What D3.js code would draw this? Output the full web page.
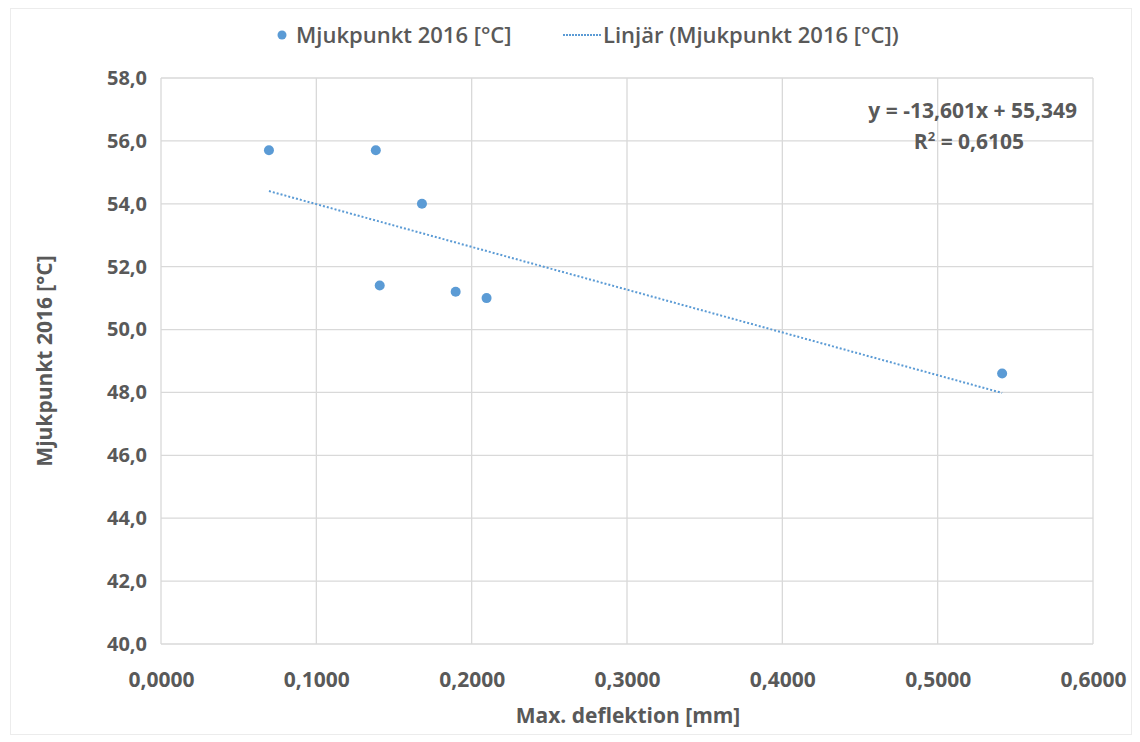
<!DOCTYPE html>
<html><head><meta charset="utf-8">
<script src="https://cdn.jsdelivr.net/npm/d3@7"></script>
<style>body{margin:0;background:#fff}svg{display:block}text{font-family:"Open Sans",sans-serif}</style>
</head><body>
<svg id="c" width="1140" height="742"></svg>
<script>
const xValues = [0.0695, 0.1383, 0.1680, 0.1408, 0.1897, 0.2096, 0.5415];
const yValues = [55.7, 55.7, 54.0, 51.4, 51.2, 51.0, 48.6];
const slope = -13.601, intercept = 55.349, r2 = 0.6105;
const xTicks = [0, 0.1, 0.2, 0.3, 0.4, 0.5, 0.6];
const yTicks = [40, 42, 44, 46, 48, 50, 52, 54, 56, 58];
const seriesName = "Mjukpunkt 2016 [°C]";
const trendName = "Linjär (Mjukpunkt 2016 [°C])";
const xTitle = "Max. deflektion [mm]";
const yTitle = "Mjukpunkt 2016 [°C]";

const svg = d3.select("#c");
const L = 161, R = 1093, T = 78, B = 644;
const x = d3.scaleLinear().domain([0, 0.6]).range([L, R]);
const y = d3.scaleLinear().domain([40, 58]).range([B, T]);
const grey = "#595959", blue = "#5b9bd5";
const fmt = (d, n) => d.toFixed(n).replace(".", ",");

svg.append("rect").attr("x", 10.5).attr("y", 8.5).attr("width", 1121).attr("height", 726)
  .attr("fill", "none").attr("stroke", "#ececec");

// gridlines
svg.append("g").selectAll("line").data(yTicks).join("line")
  .attr("x1", L).attr("x2", R).attr("y1", d => y(d)).attr("y2", d => y(d))
  .attr("stroke", "#d9d9d9").attr("stroke-width", 1.3);
svg.append("g").selectAll("line").data(xTicks).join("line")
  .attr("y1", T).attr("y2", B).attr("x1", d => x(d)).attr("x2", d => x(d))
  .attr("stroke", "#d9d9d9").attr("stroke-width", 1.3);

// axes
const ax = svg.append("g").attr("transform", `translate(0,${B})`)
  .call(d3.axisBottom(x).tickValues(xTicks).tickSize(0).tickPadding(28).tickFormat(d => fmt(d, 4)));
const ay = svg.append("g").attr("transform", `translate(${L},0)`)
  .call(d3.axisLeft(y).tickValues(yTicks).tickSize(0).tickPadding(14).tickFormat(d => fmt(d, 1)));
[ax, ay].forEach(g => {
  g.select(".domain").remove();
  g.selectAll("text").attr("fill", grey).attr("font-size", 21).attr("font-weight", 700)
    .attr("font-family", "Open Sans, sans-serif");
});
ay.selectAll("text").attr("font-size", 20);

// trendline
const x0 = d3.min(xValues), x1 = d3.max(xValues);
svg.append("line").attr("x1", x(x0)).attr("y1", y(intercept + slope * x0))
  .attr("x2", x(x1)).attr("y2", y(intercept + slope * x1))
  .attr("stroke", blue).attr("stroke-width", 2).attr("stroke-dasharray", "2,2");

// points
svg.append("g").selectAll("circle").data(xValues.map((v, i) => [v, yValues[i]])).join("circle")
  .attr("cx", d => x(d[0])).attr("cy", d => y(d[1])).attr("r", 5).attr("fill", blue);

// equation
svg.append("text").attr("x", 1077).attr("y", 118).attr("text-anchor", "end")
  .attr("fill", grey).attr("font-size", 21).attr("font-weight", 700)
  .text(`y = ${fmt(slope, 3)}x + ${fmt(intercept, 3)}`);
const rt = svg.append("text").attr("x", 969).attr("y", 149).attr("text-anchor", "middle")
  .attr("fill", grey).attr("font-size", 21).attr("font-weight", 700);
rt.append("tspan").text("R");
rt.append("tspan").attr("font-size", 13).attr("dy", -8).text("2");
rt.append("tspan").attr("dy", 8).text(` = ${fmt(r2, 4)}`);

// axis titles
svg.append("text").attr("x", 628).attr("y", 723).attr("text-anchor", "middle")
  .attr("fill", grey).attr("font-size", 21).attr("font-weight", 700).text(xTitle);
svg.append("text").attr("transform", "translate(52,361) rotate(-90)").attr("text-anchor", "middle")
  .attr("fill", grey).attr("font-size", 21).attr("font-weight", 700).text(yTitle);

// legend
svg.append("circle").attr("cx", 282).attr("cy", 35).attr("r", 4.5).attr("fill", blue);
svg.append("text").attr("x", 296).attr("y", 43).attr("fill", grey).attr("font-size", 22)
  .attr("font-weight", 600).text(seriesName);
svg.append("line").attr("x1", 563).attr("x2", 601).attr("y1", 35).attr("y2", 35)
  .attr("stroke", blue).attr("stroke-width", 2).attr("stroke-dasharray", "2,1");
svg.append("text").attr("x", 603).attr("y", 43).attr("fill", grey).attr("font-size", 22)
  .attr("font-weight", 600).text(trendName);
</script>
</body></html>
